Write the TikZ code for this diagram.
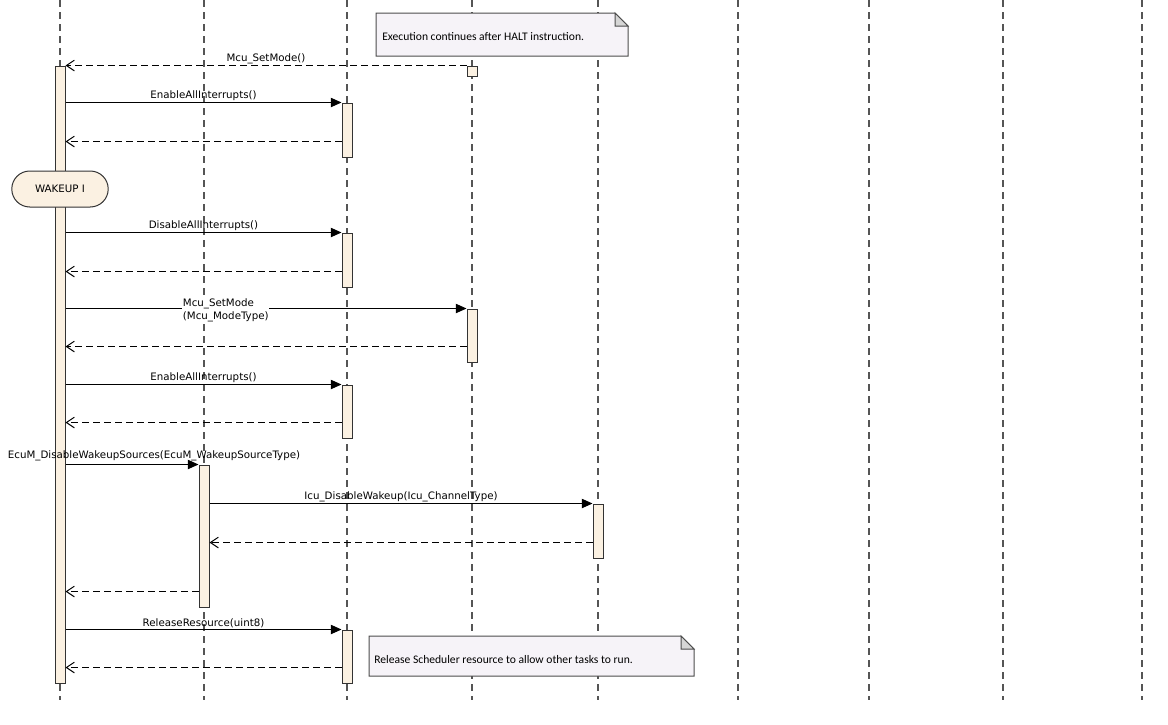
\documentclass[tikz,border=0pt]{standalone}
\usepackage{fontspec}
\setmainfont{DejaVu Sans}
\newfontfamily\notefont{Carlito}
\usepackage{xcolor}
\usetikzlibrary{arrows.meta,positioning,calc,shapes.misc}

\definecolor{actfill}{HTML}{FBF1E2}
\definecolor{notefill}{HTML}{F6F3F8}
\definecolor{foldgray}{HTML}{D6D6D6}
\definecolor{lifegray}{HTML}{555555}

\begin{document}
\begin{tikzpicture}[x=0.75pt, y=-0.75pt,
  life/.style={draw=lifegray, line width=0.9pt, dash pattern=on 5.25pt off 3.75pt},
  act/.style={draw=black!80, fill=actfill, line width=0.75pt, minimum width=7.5pt, inner sep=0pt},
  state/.style={draw=black!80, fill=actfill, line width=0.75pt, rounded rectangle, minimum width=79pt, minimum height=27pt, font=\fontsize{7.7}{9}\selectfont},
  call/.style={-{Triangle[length=8pt,width=7pt]}, line width=0.75pt},
  ret/.style={-{Straight Barb[length=6pt,width=8pt]}, line width=0.75pt, dash pattern=on 5.25pt off 3pt},
  lbl/.style={font=\fontsize{7.7}{9.5}\selectfont, inner sep=0.8pt},
  note/.style={draw=black!70, fill=notefill, line width=0.75pt},
  notetext/.style={font=\notefont\fontsize{8.7}{10}\selectfont, inner sep=0pt}
]
\useasboundingbox (0,0) rectangle (1168,725);

% lifelines
\foreach \x in {60,204,347,472,598,738,869,1003,1142}
  \draw[life] (\x,0) -- (\x,700);

% activations
\node[act, minimum height=462.75pt] (main) at (60,374.5) {};
\node[act, minimum height=7.5pt] (halt) at (472,71) {};
\node[act, minimum height=40.5pt] (en1) at (347,130) {};
\node[act, minimum height=40.5pt] (dis) at (347,260) {};
\node[act, minimum height=39.75pt] (mcu) at (472,335.5) {};
\node[act, minimum height=39.75pt] (en2) at (347,411.5) {};
\node[act, minimum height=106.5pt] (ecum) at (204,536) {};
\node[act, minimum height=40.5pt] (icu) at (598,531) {};
\node[act, minimum height=39.75pt] (rel) at (347,656.5) {};

\node[state] (wake) at (60,189) {WAKEUP I};

% return points
\foreach \a in {en1,dis,mcu,en2,ecum,icu,rel}
  \coordinate (r-\a) at ([yshift=12pt]\a.south west);

% messages
\draw[ret] (halt.north west) -- (main.east |- halt.north west)
  node[lbl, midway, above] {Mcu\_SetMode()};

\draw[call] (main.east |- en1.north) -- (en1.north west)
  node[lbl, midway, above] {EnableAllInterrupts()};
\draw[ret] (r-en1) -- (main.east |- r-en1);

\draw[call] (main.east |- dis.north) -- (dis.north west)
  node[lbl, midway, above] {DisableAllInterrupts()};
\draw[ret] (r-dis) -- (main.east |- r-dis);

\draw[call] (main.east |- mcu.north) -- (mcu.north west);
\node[lbl, fill=white, align=left, anchor=west, inner sep=0.5pt] (mculbl) at (182,310.5)
  {Mcu\_SetMode\\(Mcu\_ModeType)};
\draw[ret] (r-mcu) -- (main.east |- r-mcu);

\draw[call] (main.east |- en2.north) -- (en2.north west)
  node[lbl, midway, above] {EnableAllInterrupts()};
\draw[ret] (r-en2) -- (main.east |- r-en2);

\draw[call] (main.east |- ecum.north) -- (ecum.north west);
\node[lbl, anchor=south] (ecumlbl) at (154,462) {EcuM\_DisableWakeupSources(EcuM\_WakeupSourceType)};

\draw[call] (ecum.east |- icu.north) -- (icu.north west)
  node[lbl, midway, above] {Icu\_DisableWakeup(Icu\_ChannelType)};
\draw[ret] (r-icu) -- (ecum.east |- r-icu);
\draw[ret] (r-ecum) -- (main.east |- r-ecum);

\draw[call] (main.east |- rel.north) -- (rel.north west)
  node[lbl, midway, above] {ReleaseResource(uint8)};
\draw[ret] (r-rel) -- (main.east |- r-rel);

% notes
\draw[note] (376,13) -- (615,13) -- (628,26) -- (628,56) -- (376,56) -- cycle;
\draw[note, fill=foldgray] (615,13) -- (615,26) -- (628,26) -- cycle;
\node[notetext, anchor=west] (haltnote) at (382,37) {Execution continues after HALT instruction.};

\draw[note] (369,636) -- (681,636) -- (694,649) -- (694,676) -- (369,676) -- cycle;
\draw[note, fill=foldgray] (681,636) -- (681,649) -- (694,649) -- cycle;
\node[notetext, anchor=west] (relnote) at (374,660) {Release Scheduler resource to allow other tasks to run.};
\end{tikzpicture}
\end{document}
